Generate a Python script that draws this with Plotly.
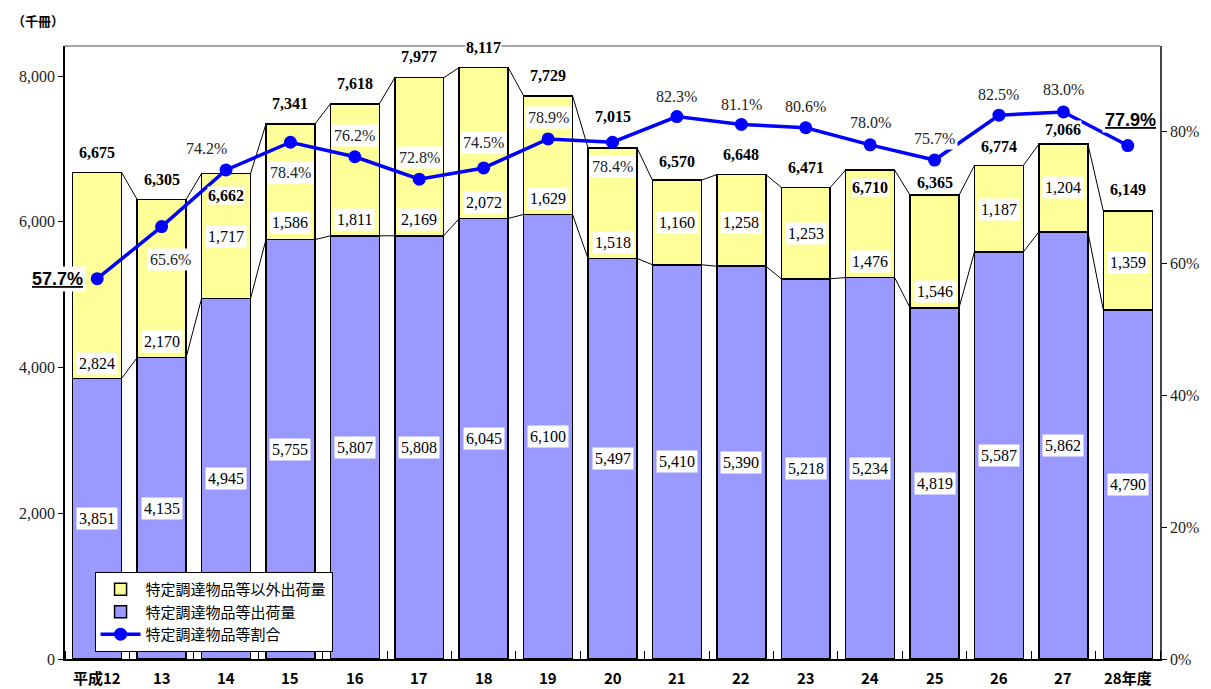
import plotly.graph_objects as go

# ---------------- data ----------------
categories = ["平成12", "13", "14", "15", "16", "17", "18", "19", "20",
              "21", "22", "23", "24", "25", "26", "27", "28年度"]
specified = [3851, 4135, 4945, 5755, 5807, 5808, 6045, 6100, 5497,
             5410, 5390, 5218, 5234, 4819, 5587, 5862, 4790]
other = [2824, 2170, 1717, 1586, 1811, 2169, 2072, 1629, 1518,
         1160, 1258, 1253, 1476, 1546, 1187, 1204, 1359]
totals = [6675, 6305, 6662, 7341, 7618, 7977, 8117, 7729, 7015,
          6570, 6648, 6471, 6710, 6365, 6774, 7066, 6149]
ratio = [57.7, 65.6, 74.2, 78.4, 76.2, 72.8, 74.5, 78.9, 78.4,
         82.3, 81.1, 80.6, 78.0, 75.7, 82.5, 83.0, 77.9]

names = ["特定調達物品等以外出荷量", "特定調達物品等出荷量", "特定調達物品等割合"]

# ---------------- label placement (pixels, style only) ----------------
total_yshift = [20, 20, -22, 21, 20, 21, 20, 20, 31, 19, 20, 20, -17, 13, 19, 15, 21]
other_yshift = [-88, -63, 0, -41, -50, -63, -60, -43, -39, 0, -2, 0, -38, -40, -1, 0, -2]
pct_xshift = [-40, 9, -20, 0, 0, 0, 0, 0, 0, 0, 0, 0, 0, 0, 0, 0, 3]
pct_yshift = [0, -33, 21, -30, 21, 22, 25, 21, -24, 20, 20, 21, 22, 22, 21, 22, 26]

YELLOW = "#FFFF99"
BLUE = "#9999FF"
LINE = "#0000FF"
SERIF = "Liberation Serif, Times New Roman, serif"
SANS = "Liberation Sans, Arial, sans-serif"
CJK = "Noto Sans CJK JP, sans-serif"
BAR_W = 0.76

x = list(range(len(categories)))

fig = go.Figure()

fig.add_trace(go.Bar(
    x=x, y=specified, name=names[1], marker=dict(color=BLUE, line=dict(color="black", width=1.5)),
    width=BAR_W, legendrank=2, hoverinfo="skip"))
fig.add_trace(go.Bar(
    x=x, y=other, name=names[0], marker=dict(color=YELLOW, line=dict(color="black", width=1.5)),
    width=BAR_W, legendrank=1, hoverinfo="skip"))

# series lines connecting the bar tops
sx, sy = [], []
for series in (totals, specified):
    for i in range(len(x) - 1):
        sx += [x[i] + BAR_W / 2, x[i + 1] - BAR_W / 2, None]
        sy += [series[i], series[i + 1], None]
fig.add_trace(go.Scatter(x=sx, y=sy, mode="lines", line=dict(color="black", width=1),
                         showlegend=False, hoverinfo="skip"))

fig.add_trace(go.Scatter(
    x=x, y=[r / 100 for r in ratio], name=names[2], yaxis="y2", mode="lines+markers",
    line=dict(color=LINE, width=3.5), marker=dict(color=LINE, size=13),
    legendrank=3, hoverinfo="skip"))

ann = []
for i in x:
    # blue segment value
    ann.append(dict(x=i, y=specified[i] / 2, text=f"{specified[i]:,}", showarrow=False,
                    font=dict(family=SERIF, size=16, color="black"), bgcolor="white", borderpad=2))
    # yellow segment value
    ann.append(dict(x=i, y=specified[i] + other[i] / 2, text=f"{other[i]:,}", showarrow=False,
                    yshift=other_yshift[i],
                    font=dict(family=SERIF, size=16, color="black"), bgcolor="white", borderpad=2))
    # totals
    ann.append(dict(x=i, y=totals[i], text=f"<b>{totals[i]:,}</b>", showarrow=False,
                    yshift=total_yshift[i],
                    font=dict(family=SERIF, size=16, color="black"), bgcolor="white", borderpad=0))
    # ratio labels
    if i in (0, len(x) - 1):
        ann.append(dict(x=i, y=ratio[i] / 100, yref="y2", text=f"<b><u>{ratio[i]:.1f}%</u></b>",
                        showarrow=False, xshift=pct_xshift[i], yshift=pct_yshift[i],
                        font=dict(family=SANS, size=18, color="black"), bgcolor="white", borderpad=2))
    else:
        ann.append(dict(x=i, y=ratio[i] / 100, yref="y2", text=f"{ratio[i]:.1f}%",
                        showarrow=False, xshift=pct_xshift[i], yshift=pct_yshift[i],
                        font=dict(family=SERIF, size=16, color="#222"), bgcolor="white", borderpad=2))
    # category labels
    ann.append(dict(x=i, y=0, yref="paper", yanchor="middle", yshift=-18, borderpad=0,
                    text=f"<b>{categories[i]}</b>",
                    showarrow=False, font=dict(family=CJK, size=15, color="black")))

ann.append(dict(x=-0.05, xref="paper", xanchor="left", y=1.042, yref="paper", yanchor="middle",
                text="<b>（千冊）</b>", showarrow=False, font=dict(family=CJK, size=13, color="black")))

fig.update_layout(
    width=1211, height=689,
    margin=dict(l=65, r=44, t=46, b=30),
    paper_bgcolor="white", plot_bgcolor="white",
    barmode="stack", bargap=0.24,
    showlegend=True,
    legend=dict(x=0.027, y=0.142, xanchor="left", yanchor="top", traceorder="normal",
                bgcolor="white", bordercolor="black", borderwidth=1,
                font=dict(family=CJK, size=15, color="black"),
                tracegroupgap=0, itemwidth=40),
    xaxis=dict(range=[-0.5, 16.5], tickvals=x, ticktext=[""] * len(x), ticks="",
               showgrid=False, zeroline=False, showline=True, linecolor="black", linewidth=1.5,
               minor=dict(tick0=-0.5, dtick=1, ticks="inside", ticklen=8, tickcolor="black", showgrid=False)),
    yaxis=dict(range=[0, 8412], tickvals=[0, 2000, 4000, 6000, 8000],
               ticktext=["0", "2,000", "4,000", "6,000", "8,000"],
               ticks="outside", ticklen=5, tickcolor="black", showgrid=False, zeroline=False,
               showline=True, linecolor="black", linewidth=1.5,
               tickfont=dict(family=SERIF, size=16, color="#222")),
    yaxis2=dict(range=[0, 0.93], overlaying="y", side="right", tickvals=[0, 0.2, 0.4, 0.6, 0.8],
                tickformat=".0%", ticks="outside", ticklen=5, tickcolor="black",
                showgrid=False, zeroline=False, showline=True, linecolor="#444", linewidth=1.5,
                tickfont=dict(family=SERIF, size=16, color="#222")),
    annotations=ann,
    shapes=[dict(type="line", xref="paper", yref="paper", x0=0, x1=1, y0=1, y1=1,
                 line=dict(color="#888", width=1.5))],
)

fig.write_html("out.html", config={"displayModeBar": False},
               post_script="document.body.style.margin='0';")
